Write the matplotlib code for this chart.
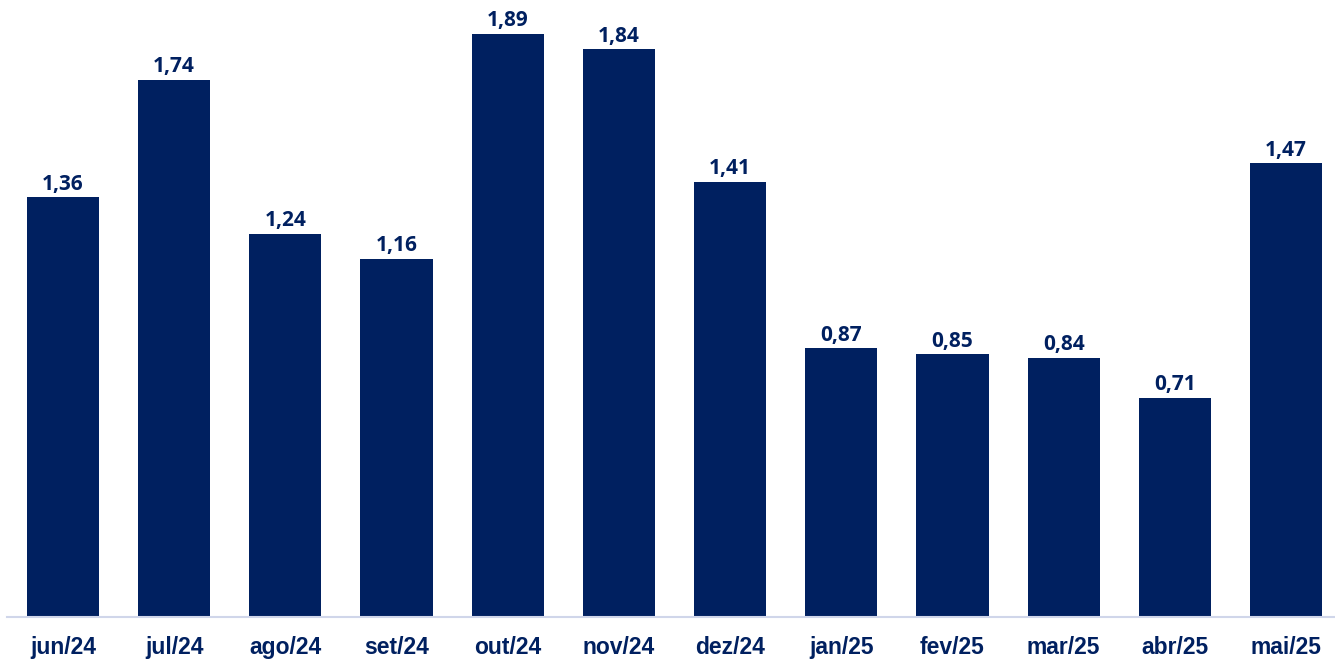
import matplotlib
matplotlib.use("Agg")
import matplotlib.pyplot as plt

months = ["jun/24", "jul/24", "ago/24", "set/24", "out/24", "nov/24",
          "dez/24", "jan/25", "fev/25", "mar/25", "abr/25", "mai/25"]
values = [1.36, 1.74, 1.24, 1.16, 1.89, 1.84, 1.41, 0.87, 0.85, 0.84, 0.71, 1.47]

bar_color = "#002060"
W, H = 1335, 664
fig = plt.figure(figsize=(W / 100, H / 100), dpi=100)
left = 7.4 / W
width = 1334.2 / W
bottom = (H - 616.5) / H
height = 616.5 / H
ax = fig.add_axes([left, bottom, width, height])

x = list(range(len(months)))
ax.bar(x, values, width=0.65, color=bar_color, zorder=2)
ax.set_xlim(-0.5, len(months) - 0.5)
ax.set_ylim(0, 2.0)

for xi, v in zip(x, values):
    ax.annotate(f"{v:.2f}".replace(".", ","), (xi, v), xytext=(0, 2),
                textcoords="offset points", ha="center", va="bottom",
                fontsize=15, fontweight="bold", color=bar_color,
                family=["Open Sans", "DejaVu Sans"])

ax.set_xticks(x)
ax.set_xticklabels(months, fontsize=16.5, fontweight="bold", color=bar_color,
                   family=["Liberation Sans", "DejaVu Sans"])
ax.tick_params(axis="x", length=0, pad=14)
ax.set_yticks([])
for s in ["top", "right", "left"]:
    ax.spines[s].set_visible(False)
ax.spines["bottom"].set_color("#D0D6EA")
ax.spines["bottom"].set_linewidth(1.5)

fig.savefig("out.png", dpi=100)
